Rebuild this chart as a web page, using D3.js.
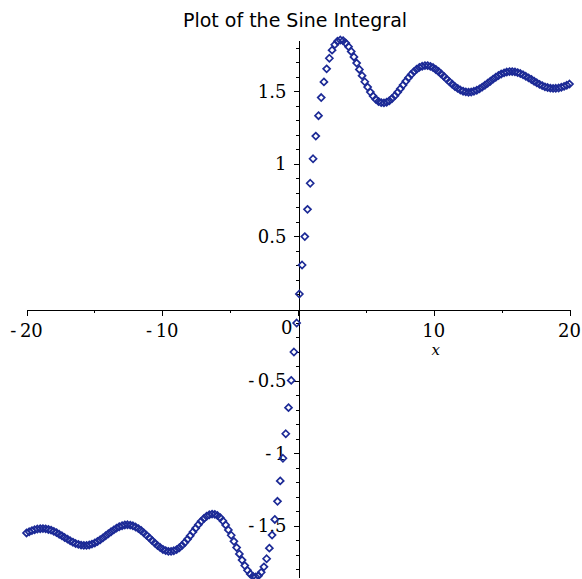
<!DOCTYPE html>
<html>
<head>
<meta charset="utf-8">
<script src="https://cdnjs.cloudflare.com/ajax/libs/d3/7.8.5/d3.min.js"></script>
<style>
  body { margin: 0; background: #fff; }
  .axis path, .axis line { stroke: #000; shape-rendering: crispEdges; }
  .lbl { font-family: "DejaVu Serif", serif; font-size: 18px; fill: #000; }
</style>
</head>
<body>
<div id="chart"></div>
<script>
// sample points of Si(x)
var xValues = [
  -20.00, -19.80, -19.60, -19.40, -19.20, -18.99, -18.79, -18.59, -18.39, -18.19,
  -17.99, -17.79, -17.59, -17.39, -17.19, -16.98, -16.78, -16.58, -16.38, -16.18,
  -15.98, -15.78, -15.58, -15.38, -15.18, -14.97, -14.77, -14.57, -14.37, -14.17,
  -13.97, -13.77, -13.57, -13.37, -13.17, -12.96, -12.76, -12.56, -12.36, -12.16,
  -11.96, -11.76, -11.56, -11.36, -11.16, -10.95, -10.75, -10.55, -10.35, -10.15,
  -9.95, -9.75, -9.55, -9.35, -9.15, -8.94, -8.74, -8.54, -8.34, -8.14,
  -7.94, -7.74, -7.54, -7.34, -7.14, -6.93, -6.73, -6.53, -6.33, -6.13,
  -5.93, -5.73, -5.53, -5.33, -5.13, -4.92, -4.72, -4.52, -4.32, -4.12,
  -3.92, -3.72, -3.52, -3.32, -3.12, -2.91, -2.71, -2.51, -2.31, -2.11,
  -1.91, -1.71, -1.51, -1.31, -1.11, -0.90, -0.70, -0.50, -0.30, -0.10,
  0.10, 0.30, 0.50, 0.70, 0.90, 1.11, 1.31, 1.51, 1.71, 1.91,
  2.11, 2.31, 2.51, 2.71, 2.91, 3.12, 3.32, 3.52, 3.72, 3.92,
  4.12, 4.32, 4.52, 4.72, 4.92, 5.13, 5.33, 5.53, 5.73, 5.93,
  6.13, 6.33, 6.53, 6.73, 6.93, 7.14, 7.34, 7.54, 7.74, 7.94,
  8.14, 8.34, 8.54, 8.74, 8.94, 9.15, 9.35, 9.55, 9.75, 9.95,
  10.15, 10.35, 10.55, 10.75, 10.95, 11.16, 11.36, 11.56, 11.76, 11.96,
  12.16, 12.36, 12.56, 12.76, 12.96, 13.17, 13.37, 13.57, 13.77, 13.97,
  14.17, 14.37, 14.57, 14.77, 14.97, 15.18, 15.38, 15.58, 15.78, 15.98,
  16.18, 16.38, 16.58, 16.78, 16.98, 17.19, 17.39, 17.59, 17.79, 17.99,
  18.19, 18.39, 18.59, 18.79, 18.99, 19.20, 19.40, 19.60, 19.80, 20.00
];

var siValues = [
  -1.548, -1.540, -1.532, -1.526, -1.521, -1.519, -1.518, -1.520, -1.524, -1.529,
  -1.537, -1.546, -1.557, -1.568, -1.580, -1.591, -1.602, -1.612, -1.621, -1.627,
  -1.632, -1.634, -1.634, -1.631, -1.625, -1.617, -1.607, -1.595, -1.582, -1.568,
  -1.554, -1.540, -1.527, -1.515, -1.505, -1.498, -1.493, -1.492, -1.494, -1.499,
  -1.507, -1.518, -1.531, -1.547, -1.564, -1.582, -1.601, -1.618, -1.635, -1.649,
  -1.662, -1.670, -1.675, -1.675, -1.671, -1.663, -1.650, -1.634, -1.614, -1.592,
  -1.567, -1.541, -1.516, -1.491, -1.468, -1.449, -1.433, -1.423, -1.418, -1.420,
  -1.428, -1.443, -1.465, -1.493, -1.527, -1.564, -1.606, -1.649, -1.693, -1.735,
  -1.773, -1.806, -1.831, -1.847, -1.852, -1.843, -1.820, -1.782, -1.726, -1.653,
  -1.563, -1.455, -1.330, -1.189, -1.033, -0.864, -0.684, -0.496, -0.300, -0.100,
  0.100, 0.300, 0.496, 0.684, 0.864, 1.033, 1.189, 1.330, 1.455, 1.563,
  1.653, 1.726, 1.782, 1.820, 1.843, 1.852, 1.847, 1.831, 1.806, 1.773,
  1.735, 1.693, 1.649, 1.606, 1.564, 1.527, 1.493, 1.465, 1.443, 1.428,
  1.420, 1.418, 1.423, 1.433, 1.449, 1.468, 1.491, 1.516, 1.541, 1.567,
  1.592, 1.614, 1.634, 1.650, 1.663, 1.671, 1.675, 1.675, 1.670, 1.662,
  1.649, 1.635, 1.618, 1.601, 1.582, 1.564, 1.547, 1.531, 1.518, 1.507,
  1.499, 1.494, 1.492, 1.493, 1.498, 1.505, 1.515, 1.527, 1.540, 1.554,
  1.568, 1.582, 1.595, 1.607, 1.617, 1.625, 1.631, 1.634, 1.634, 1.632,
  1.627, 1.621, 1.612, 1.602, 1.591, 1.580, 1.568, 1.557, 1.546, 1.537,
  1.529, 1.524, 1.520, 1.518, 1.519, 1.521, 1.526, 1.532, 1.540, 1.548
];

var xMajor = [-20, -10, 0, 10, 20];
var xMinor = [-15, -5, 5, 15];
var xLabels = ["-\u200920", "-\u200910", "", "10", "20"];
var yMajor = [-1.5, -1, -0.5, 0.5, 1, 1.5];
var yMinor = [-1.8, -1.7, -1.6, -1.4, -1.3, -1.2, -1.1, -0.9, -0.8, -0.7, -0.6,
  -0.4, -0.3, -0.2, -0.1, 0.1, 0.2, 0.3, 0.4, 0.6, 0.7, 0.8, 0.9,
  1.1, 1.2, 1.3, 1.4, 1.6, 1.7, 1.8];
var yLabels = ["-\u20091.5", "-\u20091", "-\u20090.5", "0.5", "1", "1.5"];

var width = 582, height = 579;

var x = d3.scaleLinear().domain([-20, 20]).range([26.5, 569.5]),
    y = d3.scaleLinear().domain([-1.852, 1.852]).range([577, 40]);

var svg = d3.select("#chart")
  .append("svg")
  .attr("width", width)
  .attr("height", height);

// title
svg.append("text")
  .attr("x", 295)
  .attr("y", 27)
  .attr("text-anchor", "middle")
  .style("font-family", "DejaVu Sans, sans-serif")
  .style("font-size", "19px")
  .text("Plot of the Sine Integral");

var x0 = Math.round(x(0)) + 0.5,
    y0 = Math.round(y(0)) + 0.5;

// x axis: major and minor ticks pointing down
svg.append("g")
  .attr("class", "axis")
  .attr("transform", "translate(0," + y0 + ")")
  .call(d3.axisBottom(x).tickValues(xMajor).tickSize(6).tickSizeOuter(0).tickFormat(""));
svg.append("g")
  .attr("class", "axis")
  .attr("transform", "translate(0," + y0 + ")")
  .call(d3.axisBottom(x).tickValues(xMinor).tickSize(3).tickSizeOuter(0).tickFormat(""))
  .select(".domain").remove();

// y axis: ticks pointing left
svg.append("g")
  .attr("class", "axis")
  .attr("transform", "translate(" + x0 + ",0)")
  .call(d3.axisLeft(y).tickValues(yMajor).tickSize(5).tickSizeOuter(0).tickFormat(""));
svg.append("g")
  .attr("class", "axis")
  .attr("transform", "translate(" + x0 + ",0)")
  .call(d3.axisLeft(y).tickValues(yMinor).tickSize(3).tickSizeOuter(0).tickFormat(""))
  .select(".domain").remove();

// tick labels
svg.selectAll(".xlbl")
  .data(xMajor)
  .enter().append("text")
  .attr("class", "lbl")
  .attr("x", function(d) { return x(d); })
  .attr("y", y0 + 27)
  .attr("text-anchor", "middle")
  .text(function(d, i) { return xLabels[i]; });

svg.selectAll(".ylbl")
  .data(yMajor)
  .enter().append("text")
  .attr("class", "lbl")
  .attr("x", x0 - 12)
  .attr("y", function(d) { return y(d) + 6.5; })
  .attr("text-anchor", "end")
  .text(function(d, i) { return yLabels[i]; });

// origin label
svg.append("text")
  .attr("class", "lbl")
  .attr("x", x0 - 6)
  .attr("y", y0 + 24)
  .attr("text-anchor", "end")
  .text("0");

// axis name
svg.append("text")
  .attr("x", x(10) + 2)
  .attr("y", y0 + 45)
  .attr("text-anchor", "middle")
  .style("font-family", "DejaVu Serif, serif")
  .style("font-style", "italic")
  .style("font-size", "15px")
  .text("x");

// points as small hollow diamonds
var pts = d3.range(xValues.length);
svg.append("g")
  .selectAll("path")
  .data(pts)
  .enter().append("path")
  .attr("transform", function(i) { return "translate(" + x(xValues[i]) + "," + y(siValues[i]) + ")"; })
  .attr("d", "M0,-3.5L3.5,0L0,3.5L-3.5,0Z")
  .attr("fill", "none")
  .attr("stroke", "#1c2a96")
  .attr("stroke-width", 1.7);
</script>
</body>
</html>
